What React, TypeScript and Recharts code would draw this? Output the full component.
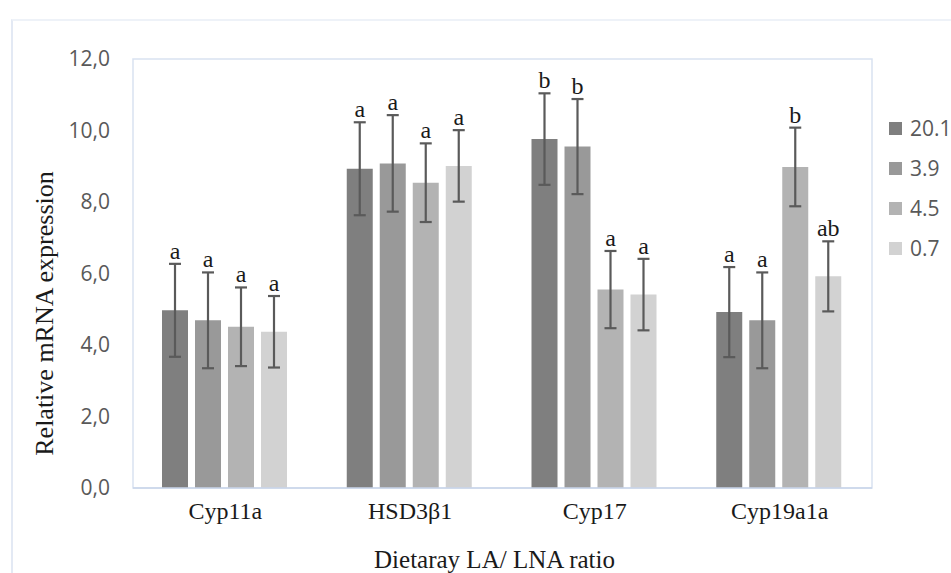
import { BarChart, Bar, XAxis, YAxis, ErrorBar, LabelList, ReferenceArea } from "recharts";

const categories = ["Cyp11a", "HSD3β1", "Cyp17", "Cyp19a1a"];
const seriesNames = ["20.1", "3.9", "4.5", "0.7"];
const seriesColors = ["#7f7f7f", "#999999", "#b3b3b3", "#d2d2d2"];

// mean relative expression per ratio group
const ratio201 = [4.97, 8.93, 9.76, 4.92];
const ratio39 = [4.69, 9.08, 9.55, 4.69];
const ratio45 = [4.51, 8.54, 5.55, 8.98];
const ratio07 = [4.37, 9.01, 5.41, 5.92];

// standard error bars
const err201 = [1.3, 1.3, 1.28, 1.26];
const err39 = [1.34, 1.35, 1.33, 1.34];
const err45 = [1.1, 1.1, 1.08, 1.1];
const err07 = [1.0, 1.0, 1.0, 0.98];

// significance letters
const sig201 = ["a", "a", "b", "a"];
const sig39 = ["a", "a", "b", "a"];
const sig45 = ["a", "a", "a", "b"];
const sig07 = ["a", "a", "a", "ab"];

const yTicks = [0, 2, 4, 6, 8, 10, 12];

const values = [ratio201, ratio39, ratio45, ratio07];
const errors = [err201, err39, err45, err07];
const letters = [sig201, sig39, sig45, sig07];

const data = categories.map((name, i) => {
  const row: Record<string, string | number> = { name };
  seriesNames.forEach((_, s) => {
    row[`v${s}`] = values[s][i];
    row[`e${s}`] = errors[s][i];
    row[`l${s}`] = letters[s][i];
  });
  return row;
});

const serif = "'Liberation Serif', 'Times New Roman', serif";
const sans = "'Open Sans', 'Noto Sans', sans-serif";

function sigLabel(s: number) {
  return (props: any) => {
    const vb = props.viewBox || {};
    const x = props.x ?? vb.x;
    const y = props.y ?? vb.y;
    const w = props.width ?? vb.width;
    const h = props.height ?? vb.height;
    const idx = props.index;
    const v = values[s][idx];
    const top = y - (errors[s][idx] * h) / v;
    return (
      <text x={x + w / 2} y={top - 5} textAnchor="middle" fontFamily={serif} fontSize={24} fill="#1a1a1a">
        {props.value}
      </text>
    );
  };
}

function LegendBox() {
  return (
    <div style={{ position: "absolute", left: 889, top: 108 }}>
      {seriesNames.map((n, i) => (
        <div key={n} style={{ display: "flex", alignItems: "center", height: 40 }}>
          <span style={{ width: 13, height: 13, background: seriesColors[i], marginRight: 8 }} />
          <span style={{ fontFamily: sans, fontSize: 21, color: "#595959" }}>{n}</span>
        </div>
      ))}
    </div>
  );
}

export default function App() {
  return (
    <div style={{ position: "relative", width: 951, height: 573, overflow: "hidden", background: "#fff" }}>
      <style>{`body{margin:0}`}</style>
      <div
        style={{
          position: "absolute",
          left: 11,
          top: 19,
          width: 1000,
          height: 600,
          borderLeft: "2px solid #e3e9f4",
          borderTop: "2px solid #eef2f8",
        }}
      />
      <BarChart
        width={951}
        height={573}
        data={data}
        margin={{ top: 59, right: 79, bottom: 0, left: 0 }}
        barCategoryGap={29}
        barGap={7}
        style={{ position: "absolute", left: 0, top: 0 }}
      >
        <ReferenceArea y1={0} y2={12} fill="none" stroke="#d9e2f1" strokeWidth={1.5} ifOverflow="visible" />
        <XAxis
          dataKey="name"
          height={85}
          tickSize={0}
          tickMargin={14}
          axisLine={{ stroke: "#c8d4ea", strokeWidth: 1.5 }}
          tick={{ fill: "#1a1a1a", fontSize: 24, fontFamily: serif }}
          label={{
            content: ({ viewBox }: any) => (
              <text
                x={viewBox.x + viewBox.width / 2 - 8}
                y={viewBox.y + 80}
                textAnchor="middle"
                fontFamily={serif}
                fontSize={25}
                fill="#1a1a1a"
              >
                Dietaray LA/ LNA ratio
              </text>
            ),
          }}
        />
        <YAxis
          width={133}
          domain={[0, 12]}
          ticks={yTicks}
          tickSize={0}
          tickMargin={23}
          axisLine={false}
          tick={{ fill: "#595959", fontSize: 21, fontFamily: sans }}
          tickFormatter={(v: number) => v.toFixed(1).replace(".", ",")}
          label={{
            content: ({ viewBox }: any) => {
              const cx = viewBox.x + 53;
              const cy = viewBox.y + viewBox.height / 2 + 40;
              return (
                <text
                  x={cx}
                  y={cy}
                  transform={`rotate(-90 ${cx} ${cy})`}
                  textAnchor="middle"
                  fontFamily={serif}
                  fontSize={26}
                  fill="#1a1a1a"
                >
                  Relative mRNA expression
                </text>
              );
            },
          }}
        />
        {seriesNames.map((n, s) => (
          <Bar key={n} dataKey={`v${s}`} name={n} fill={seriesColors[s]} isAnimationActive={false}>
            <ErrorBar dataKey={`e${s}`} width={6} stroke="#5a5a5a" strokeWidth={2.2} />
            <LabelList dataKey={`l${s}`} content={sigLabel(s)} />
          </Bar>
        ))}
      </BarChart>
      <LegendBox />
    </div>
  );
}
